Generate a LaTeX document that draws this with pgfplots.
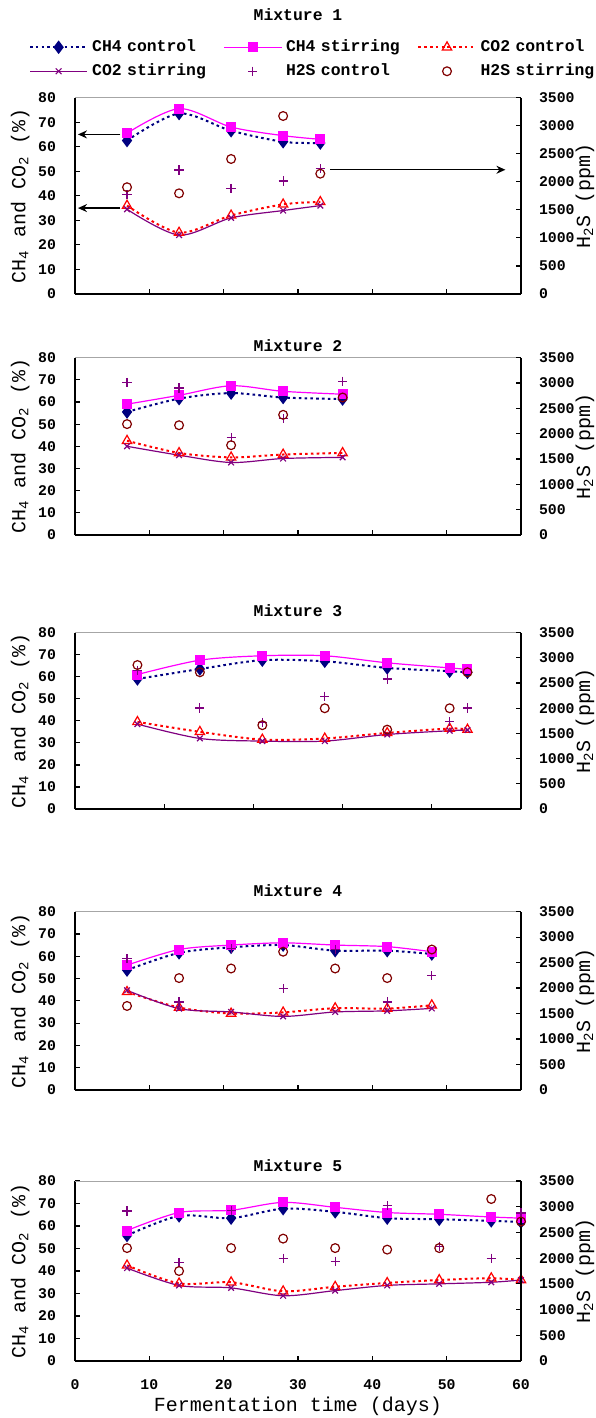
\documentclass[border=0pt]{standalone}
\usepackage{fontspec}
\setmainfont{Liberation Mono}
\usepackage{pgfplots}
\pgfplotsset{compat=1.18}
\usetikzlibrary{arrows.meta}

\definecolor{cnavy}{RGB}{0,0,128}
\definecolor{cmag}{RGB}{255,0,255}
\definecolor{cred}{RGB}{255,0,0}
\definecolor{cpurp}{RGB}{128,0,128}
\definecolor{cbrown}{RGB}{128,0,0}

\tikzset{ttl/.style={font=\fontsize{8.2}{9}\selectfont\bfseries, anchor=center}}

\pgfplotsset{
  base/.style={scale only axis, width=223pt, xmin=0, xmax=60, clip=false,
    tick align=inside, major tick length=2.5pt,
    tick style={black, line width=0.6pt},
    axis line style={black, line width=0.7pt},
    /pgf/number format/assume math mode=true,
    /pgf/number format/1000 sep={},
    ticklabel style={font=\fontsize{7.4}{8}\selectfont\bfseries},
    label style={font=\fontsize{8.2}{9}\selectfont\bfseries},
  },
  leftax/.style={base, ymin=0, ymax=80, ytick={0,10,...,80},
    axis x line*=bottom, axis y line*=left,
    xtick={0,10,...,60},
    yticklabel style={xshift=-6pt},
    xticklabel style={yshift=-6pt},
    ylabel={CH\textsubscript{4} and CO\textsubscript{2} (\%)},
    every axis y label/.style={at={(axis description cs:-0.123,0.5)}, rotate=90, anchor=center},
    extra description/.code={\draw[gray!70, line width=0.5pt] (axis description cs:0,1) -- (axis description cs:1,1);},
  },
  rightax/.style={base, ymin=0, ymax=3500, ytick={0,500,...,3500},
    axis y line*=right, axis x line=none,
    yticklabel style={xshift=5.5pt},
    ylabel={H\textsubscript{2}S (ppm)},
    every axis y label/.style={at={(axis description cs:1.1435,0.5)}, rotate=90, anchor=center},
  },
  ch4c/.style={cnavy, line width=1pt, dash pattern=on 1.3pt off 1.6pt, smooth, mark=diamond*, mark size=2.6pt, mark options={solid, fill=cnavy}},
  ch4s/.style={cmag, line width=0.6pt, smooth, mark=square*, mark size=2.2pt, mark options={fill=cmag}},
  co2c/.style={cred, line width=1pt, dash pattern=on 1.3pt off 1.6pt, smooth, mark=triangle, mark size=2.7pt, mark options={solid, line width=0.6pt}},
  co2s/.style={cpurp, line width=0.6pt, smooth, mark=x, mark size=2pt},
  h2sc/.style={only marks, cpurp, mark=+, mark size=2.3pt, line width=0.6pt},
  h2ss/.style={only marks, cbrown, mark=o, mark size=2.2pt, line width=0.6pt},
  legend image code/.code={\draw[mark repeat=2, mark phase=2, #1] plot coordinates {(0pt,0pt) (14.3pt,0pt) (28.6pt,0pt)};},
}

\begin{document}
\begin{tikzpicture}
\useasboundingbox (0,0) rectangle (297.5pt,-709pt);

% ---------------- Mixture 1
\begin{axis}[leftax, at={(37.5pt,-147pt)}, anchor=south west, height=98.2pt, xticklabels={}]
\addplot[ch4c] coordinates {(7,62.5) (14,73.5) (21,66.5) (28,62) (33,61.5)};
\addplot[ch4s] coordinates {(7,65.5) (14,75.5) (21,68) (28,64.5) (33,63)};
\addplot[co2c] coordinates {(7,36) (14,25) (21,32) (28,36.5) (33,37.5)};
\addplot[co2s] coordinates {(7,34.5) (14,24) (21,31) (28,34) (33,36)};
\draw[-{Stealth[length=4.5pt,width=4pt]}, line width=0.7pt] (axis cs:6.1,65) -- (axis cs:0.4,65);
\draw[-{Stealth[length=4.5pt,width=4pt]}, line width=0.7pt] (axis cs:6.1,35) -- (axis cs:0.4,35);
\node[ttl] at (axis description cs:0.5,1) [yshift=41.3pt] {Mixture 1};
\end{axis}
\begin{axis}[rightax, at={(37.5pt,-147pt)}, anchor=south west, height=98.2pt,
  legend columns=3, legend cell align=left,
  legend style={draw=none, fill=none, at={(axis description cs:-0.104,1.297)}, anchor=north west,
    inner sep=0pt, row sep=4.4pt,
    nodes={font=\fontsize{8.2}{9}\selectfont\bfseries, inner xsep=2pt, inner ysep=0pt,
      text height=6pt, text depth=1.6pt, text width=61pt, align=left},
    /tikz/every even column/.append style={column sep=2.7pt}}]
\addlegendimage{ch4c}\addlegendentry{CH4 control}
\addlegendimage{ch4s}\addlegendentry{CH4 stirring}
\addlegendimage{co2c}\addlegendentry{CO2 control}
\addlegendimage{co2s}\addlegendentry{CO2 stirring}
\addplot[h2sc] coordinates {(7,1772) (14,2209) (21,1881) (28,2013) (33,2231)};
\addlegendentry{H2S control}
\addplot[h2ss] coordinates {(7,1903) (14,1794) (21,2406) (28,3172) (33,2144)};
\addlegendentry{H2S stirring}
\draw[-{Stealth[length=4.5pt,width=4pt]}, line width=0.7pt] (axis cs:34.3,2214) -- (axis cs:57.9,2214);
\end{axis}

% ---------------- Mixture 2
\begin{axis}[leftax, at={(37.5pt,-267.5pt)}, anchor=south west, height=88.7pt, xticklabels={}]
\addplot[ch4c] coordinates {(7,55.5) (14,61.5) (21,64) (28,62) (36,61.3)};
\addplot[ch4s] coordinates {(7,59) (14,63) (21,67.3) (28,64.8) (36,63.5)};
\addplot[co2c] coordinates {(7,42.5) (14,37) (21,35) (28,36.3) (36,37)};
\addplot[co2s] coordinates {(7,40) (14,36) (21,32.7) (28,34.5) (36,35)};
\node[ttl] at (axis description cs:0.5,1) [yshift=6.2pt] {Mixture 2};
\end{axis}
\begin{axis}[rightax, at={(37.5pt,-267.5pt)}, anchor=south west, height=88.7pt]
\addplot[h2sc] coordinates {(7,3010) (14,2900) (21,1925) (28,2297) (36,3032)};
\addplot[h2ss] coordinates {(7,2188) (14,2166) (21,1772) (28,2371) (36,2713)};
\end{axis}

% ---------------- Mixture 3
\begin{axis}[leftax, at={(37.5pt,-404.5pt)}, anchor=south west, height=88.2pt, xmax=50, xtick={0,10,...,50}, xticklabels={}]
\addplot[ch4c] coordinates {(7,59) (14,63.5) (21,67.5) (28,67) (35,64) (42,62.5) (44,62)};
\addplot[ch4s] coordinates {(7,61) (14,67.5) (21,69.5) (28,69.5) (35,66.3) (42,64) (44,63.3)};
\addplot[co2c] coordinates {(7,39.5) (14,35) (21,31.5) (28,32) (35,34.5) (42,36.5) (44,36)};
\addplot[co2s] coordinates {(7,38.5) (14,32) (21,30.8) (28,30.8) (35,33.8) (42,35.5) (44,35.8)};
\node[ttl] at (axis description cs:0.5,1) [yshift=11pt] {Mixture 3};
\end{axis}
\begin{axis}[rightax, at={(37.5pt,-404.5pt)}, anchor=south west, height=88.2pt, xmax=50]
\addplot[h2sc] coordinates {(7,2756) (14,2004) (21,1719) (28,2240) (35,2581) (42,1737) (44,2004)};
\addplot[h2ss] coordinates {(7,2857) (14,2713) (21,1663) (28,1999) (35,1575) (42,1999) (44,2713)};
\end{axis}

% ---------------- Mixture 4
\begin{axis}[leftax, at={(37.5pt,-545pt)}, anchor=south west, height=89.2pt, xticklabels={}]
\addplot[ch4c] coordinates {(7,53.8) (14,61.5) (21,64) (28,65) (35,62.5) (42,62.5) (48,61)};
\addplot[ch4s] coordinates {(7,56) (14,63) (21,65) (28,66) (35,65) (42,64.3) (48,62)};
\addplot[co2c] coordinates {(7,44) (14,37) (21,34.3) (28,34.8) (35,36.7) (42,36.5) (48,38)};
\addplot[co2s] coordinates {(7,44.7) (14,36.5) (21,35) (28,33) (35,35) (42,35.5) (48,36.6)};
\node[ttl] at (axis description cs:0.5,1) [yshift=10.5pt] {Mixture 4};
\end{axis}
\begin{axis}[rightax, at={(37.5pt,-545pt)}, anchor=south west, height=89.2pt]
\addplot[h2sc] coordinates {(7,2573) (14,1728) (21,2778) (28,1991) (35,2756) (42,1728) (48,2244)};
\addplot[h2ss] coordinates {(7,1649) (14,2196) (21,2384) (28,2713) (35,2384) (42,2196) (48,2756)};
\end{axis}

% ---------------- Mixture 5
\begin{axis}[leftax, at={(37.5pt,-680.5pt)}, anchor=south west, height=90pt,
  xlabel={Fermentation time (days)},
  every axis x label/.style={at={(axis description cs:0.5,0)}, anchor=center, yshift=-22.6pt}]
\addplot[ch4c] coordinates {(7,55.8) (14,64.5) (21,63.5) (28,67.7) (35,66.3) (42,63.5) (49,63) (56,62.3) (60,61.8)};
\addplot[ch4s] coordinates {(7,58) (14,66) (21,67) (28,70.5) (35,68.3) (42,66) (49,65.2) (56,64) (60,63.5)};
\addplot[co2c] coordinates {(7,42.5) (14,34.5) (21,35) (28,31) (35,33) (42,34.7) (49,36) (56,36.8) (60,36)};
\addplot[co2s] coordinates {(7,41.3) (14,33.6) (21,32.5) (28,29) (35,31.3) (42,33.6) (49,34.3) (56,35) (60,36)};
\node[ttl] at (axis description cs:0.5,1) [yshift=7.5pt] {Mixture 5};
\end{axis}
\begin{axis}[rightax, at={(37.5pt,-680.5pt)}, anchor=south west, height=90pt]
\addplot[h2sc] coordinates {(7,2918) (14,1916) (21,2923) (28,1999) (35,1938) (42,3019) (49,2231) (56,1999) (60,2879)};
\addplot[h2ss] coordinates {(7,2196) (14,1750) (21,2196) (28,2380) (35,2196) (42,2166) (49,2196) (56,3150) (60,2713)};
\end{axis}
\end{tikzpicture}
\end{document}
